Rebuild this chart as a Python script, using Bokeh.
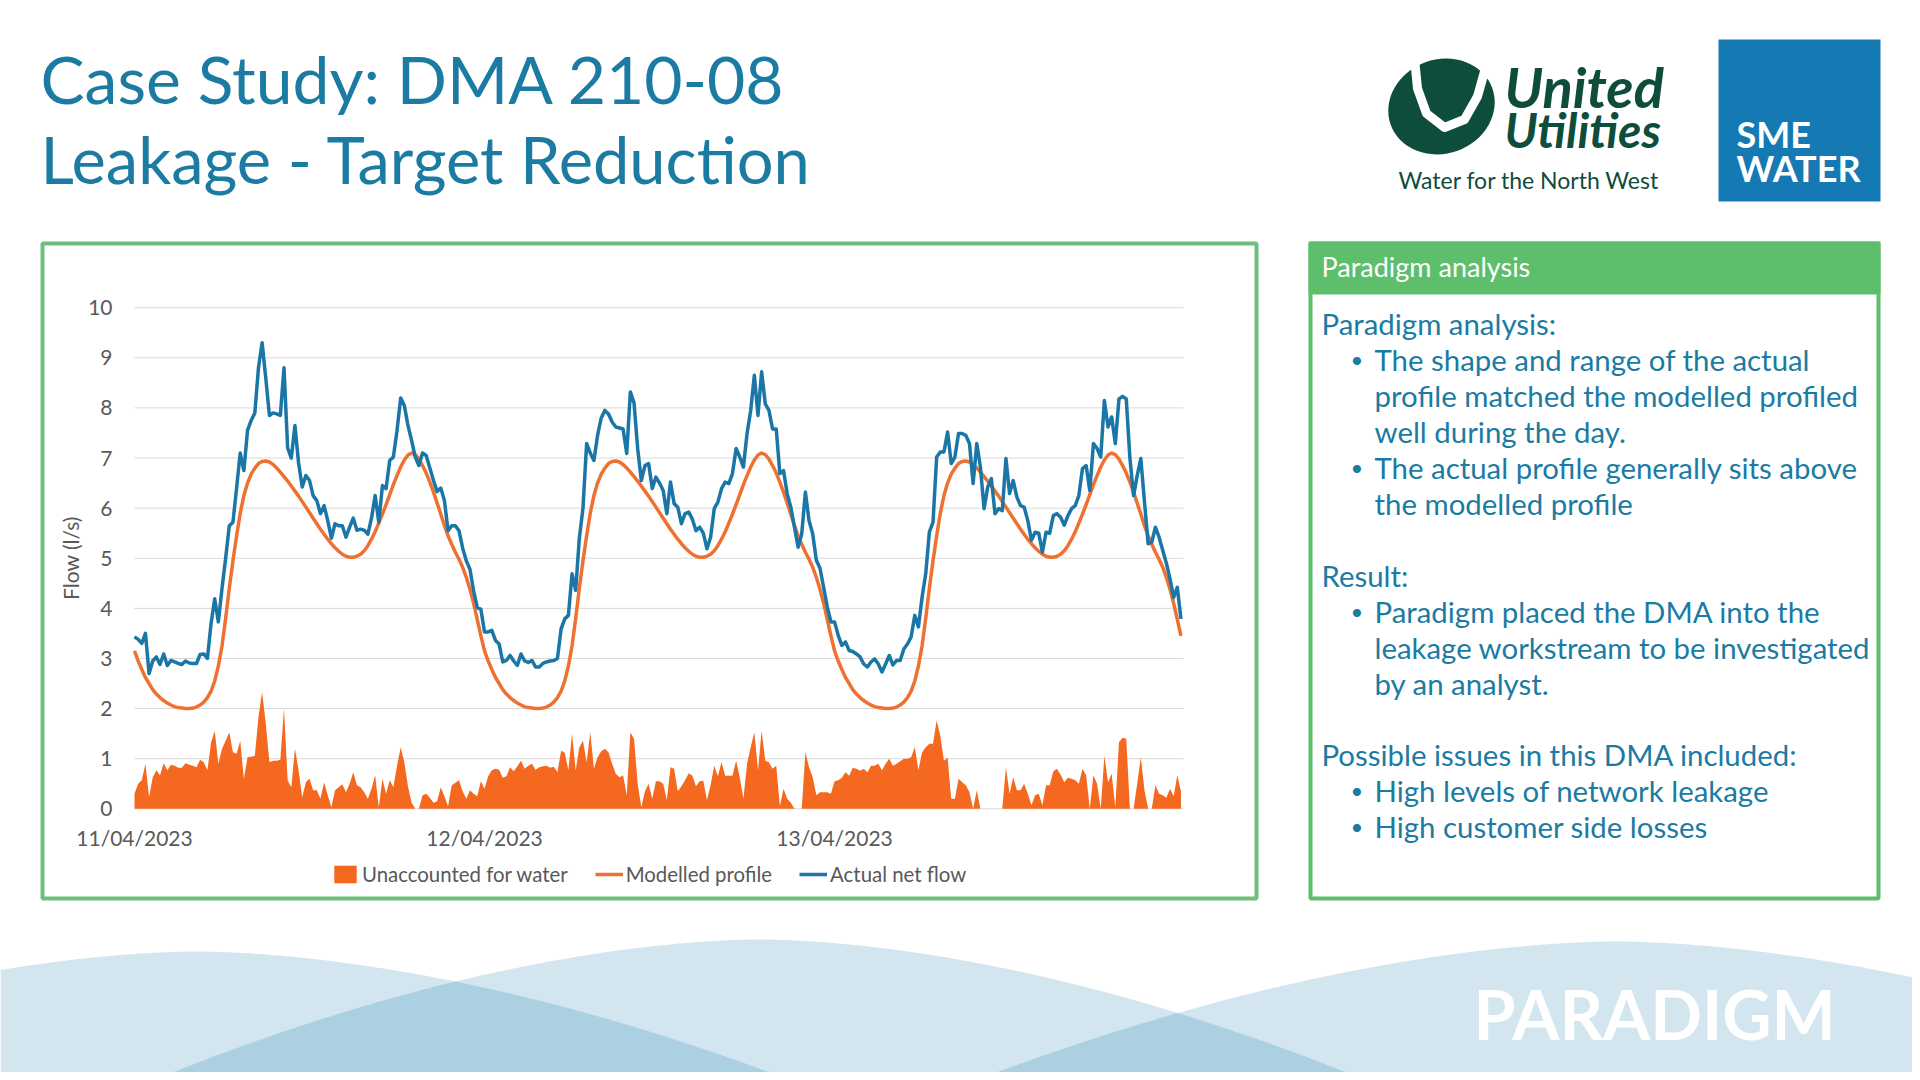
import numpy as np
import pandas as pd
from bokeh.plotting import figure
from bokeh.models import (Range1d, FixedTicker, DatetimeTickFormatter, Legend,
                          LegendItem, ColumnDataSource, LinearAxis, DatetimeAxis)
from bokeh.core.properties import value
from bokeh.embed import file_html
from bokeh.resources import INLINE

# ------------------------------------------------------------------ data
start_time = "2023-04-11 00:00"
interval = "15min"
date_labels = ["11/04/2023", "12/04/2023", "13/04/2023"]
y_ticks = [0, 1, 2, 3, 4, 5, 6, 7, 8, 9, 10]
y_axis_title = "Flow (l/s)"
series_names = ["Unaccounted for water", "Modelled profile", "Actual net flow"]

actual_net_flow = [
    3.43, 3.38, 3.30, 3.50, 2.70, 2.95, 3.03, 2.88, 3.09, 2.86,
    2.96, 2.93, 2.90, 2.88, 2.95, 2.91, 2.90, 2.90, 3.08, 3.09,
    3.00, 3.70, 4.19, 3.73, 4.40, 5.00, 5.65, 5.72, 6.40, 7.10,
    6.75, 7.55, 7.75, 7.90, 8.80, 9.30, 8.60, 7.85, 7.90, 7.88,
    7.85, 8.80, 7.20, 7.00, 7.65, 6.90, 6.42, 6.65, 6.55, 6.25,
    6.15, 5.89, 6.05, 5.75, 5.40, 5.69, 5.65, 5.65, 5.42, 5.62,
    5.80, 5.56, 5.58, 5.56, 5.48, 5.80, 6.25, 5.72, 6.45, 6.39,
    6.95, 7.02, 7.55, 8.20, 8.05, 7.65, 7.35, 7.02, 6.85, 7.10,
    7.05, 6.80, 6.55, 6.33, 6.40, 6.15, 5.55, 5.65, 5.65, 5.55,
    5.20, 4.95, 4.78, 4.35, 4.02, 3.98,
    3.53, 3.53, 3.56, 3.36, 3.29, 2.93, 2.96, 3.06, 2.95, 2.86,
    3.09, 2.95, 2.92, 2.96, 2.83, 2.83, 2.90, 2.93, 2.95, 2.96,
    3.00, 3.59, 3.79, 3.86, 4.69, 4.36, 5.40, 6.00, 7.29, 7.10,
    6.95, 7.45, 7.80, 7.95, 7.88, 7.72, 7.62, 7.60, 7.58, 7.09,
    8.32, 8.10, 7.19, 6.55, 6.85, 6.89, 6.39, 6.62, 6.50, 6.35,
    5.89, 6.52, 6.09, 6.02, 5.69, 5.89, 5.92, 5.78, 5.55, 5.62,
    5.50, 5.19, 5.42, 5.99, 6.12, 6.39, 6.52, 6.49, 6.69, 7.19,
    7.02, 6.82, 7.49, 7.95, 8.65, 7.85, 8.72, 8.08, 7.95, 7.58,
    7.58, 6.69, 6.75, 6.29, 6.02, 5.62, 5.22, 5.49, 6.32, 5.75,
    5.49, 4.96, 4.80, 4.42, 4.03, 3.73,
    3.73, 3.46, 3.26, 3.33, 3.16, 3.14, 3.09, 3.03, 2.89, 2.83,
    2.93, 2.99, 2.89, 2.73, 2.89, 3.06, 2.87, 2.96, 2.96, 3.19,
    3.29, 3.43, 3.86, 3.63, 4.22, 4.69, 5.52, 5.72, 7.02, 7.12,
    7.12, 7.52, 6.89, 7.02, 7.49, 7.49, 7.45, 7.29, 6.49, 7.29,
    6.82, 5.99, 6.42, 6.59, 5.89, 5.99, 5.95, 6.99, 6.29, 6.55,
    6.22, 6.05, 6.02, 5.75, 5.36, 5.52, 5.50, 5.12, 5.52, 5.50,
    5.85, 5.89, 5.82, 5.66, 5.85, 5.99, 6.05, 6.25, 6.79, 6.85,
    6.35, 7.29, 7.19, 7.02, 8.15, 7.62, 7.82, 7.29, 8.18, 8.23,
    8.18, 7.00, 6.25, 6.65, 6.99, 6.12, 5.29, 5.32, 5.62, 5.42,
    5.16, 4.90, 4.59, 4.22, 4.42, 3.79,
]

modelled_profile = [
    3.15, 2.95, 2.78, 2.62, 2.50, 2.38, 2.29, 2.22, 2.16, 2.11,
    2.07, 2.04, 2.02, 2.01, 2.00, 2.00, 2.01, 2.03, 2.07, 2.13,
    2.22, 2.35, 2.55, 2.85, 3.25, 3.80, 4.40, 4.95, 5.45, 5.90,
    6.25, 6.50, 6.68, 6.80, 6.89, 6.93, 6.94, 6.92, 6.87, 6.80,
    6.72, 6.63, 6.54, 6.44, 6.34, 6.24, 6.13, 6.02, 5.91, 5.80,
    5.69, 5.58, 5.48, 5.38, 5.29, 5.21, 5.14, 5.08, 5.04, 5.02,
    5.02, 5.04, 5.08, 5.15, 5.25, 5.38, 5.53, 5.70, 5.88, 6.07,
    6.27, 6.47, 6.65, 6.82, 6.96, 7.06, 7.10, 7.07, 6.98, 6.85,
    6.70, 6.52, 6.32, 6.10, 5.88, 5.65, 5.45, 5.28, 5.12, 4.98,
    4.82, 4.62, 4.38, 4.10, 3.78, 3.45,
    3.15, 2.95, 2.78, 2.62, 2.50, 2.38, 2.29, 2.22, 2.16, 2.11,
    2.07, 2.04, 2.02, 2.01, 2.00, 2.00, 2.01, 2.03, 2.07, 2.13,
    2.22, 2.35, 2.55, 2.85, 3.25, 3.80, 4.40, 4.95, 5.45, 5.90,
    6.25, 6.50, 6.68, 6.80, 6.89, 6.93, 6.94, 6.92, 6.87, 6.80,
    6.72, 6.63, 6.54, 6.44, 6.34, 6.24, 6.13, 6.02, 5.91, 5.80,
    5.69, 5.58, 5.48, 5.38, 5.29, 5.21, 5.14, 5.08, 5.04, 5.02,
    5.02, 5.04, 5.08, 5.15, 5.25, 5.38, 5.53, 5.70, 5.88, 6.07,
    6.27, 6.47, 6.65, 6.82, 6.96, 7.06, 7.10, 7.07, 6.98, 6.85,
    6.70, 6.52, 6.32, 6.10, 5.88, 5.65, 5.45, 5.28, 5.12, 4.98,
    4.82, 4.62, 4.38, 4.10, 3.78, 3.45,
    3.15, 2.95, 2.78, 2.62, 2.50, 2.38, 2.29, 2.22, 2.16, 2.11,
    2.07, 2.04, 2.02, 2.01, 2.00, 2.00, 2.01, 2.03, 2.07, 2.13,
    2.22, 2.35, 2.55, 2.85, 3.25, 3.80, 4.40, 4.95, 5.45, 5.90,
    6.25, 6.50, 6.68, 6.80, 6.89, 6.93, 6.94, 6.92, 6.87, 6.80,
    6.72, 6.63, 6.54, 6.44, 6.34, 6.24, 6.13, 6.02, 5.91, 5.80,
    5.69, 5.58, 5.48, 5.38, 5.29, 5.21, 5.14, 5.08, 5.04, 5.02,
    5.02, 5.04, 5.08, 5.15, 5.25, 5.38, 5.53, 5.70, 5.88, 6.07,
    6.27, 6.47, 6.65, 6.82, 6.96, 7.06, 7.10, 7.07, 6.98, 6.85,
    6.70, 6.52, 6.32, 6.10, 5.88, 5.65, 5.45, 5.28, 5.12, 4.98,
    4.82, 4.62, 4.38, 4.10, 3.78, 3.45,
]

unaccounted_for_water = [
    0.30, 0.50, 0.57, 0.90, 0.23, 0.63, 0.77, 0.67, 0.91, 0.77,
    0.88, 0.86, 0.82, 0.82, 0.91, 0.88, 0.86, 0.83, 0.98, 0.93,
    0.77, 1.33, 1.56, 0.90, 1.20, 1.36, 1.53, 1.13, 1.10, 1.36,
    0.60, 1.03, 1.04, 1.06, 1.83, 2.33, 1.70, 0.93, 0.96, 0.96,
    0.98, 2.00, 0.57, 0.43, 1.20, 0.77, 0.23, 0.53, 0.60, 0.37,
    0.37, 0.20, 0.53, 0.27, 0.03, 0.37, 0.43, 0.49, 0.33, 0.50,
    0.73, 0.47, 0.43, 0.33, 0.20, 0.40, 0.67, 0.03, 0.60, 0.30,
    0.57, 0.43, 0.86, 1.23, 0.93, 0.45, 0.12, 0.00, 0.00, 0.27,
    0.30, 0.22, 0.12, 0.15, 0.43, 0.25, 0.05, 0.47, 0.52, 0.57,
    0.35, 0.20, 0.37, 0.30, 0.25, 0.55, 0.40, 0.65, 0.77, 0.80,
    0.78, 0.62, 0.65, 0.83, 0.75, 0.85, 0.96, 0.80, 0.86, 0.90,
    0.78, 0.83, 0.85, 0.86, 0.82, 0.84, 0.73, 1.16, 1.12, 0.77,
    1.50, 0.77, 1.23, 1.36, 0.93, 1.53, 0.80, 1.03, 1.15, 1.20,
    1.13, 0.90, 0.70, 0.63, 0.67, 0.27, 1.53, 1.40, 0.50, 0.03,
    0.35, 0.50, 0.20, 0.55, 0.55, 0.50, 0.17, 0.83, 0.80, 0.35,
    0.45, 0.57, 0.71, 0.66, 0.45, 0.55, 0.56, 0.17, 0.47, 0.86,
    0.65, 0.93, 0.66, 0.66, 0.66, 0.96, 0.63, 0.20, 0.90, 1.23,
    1.53, 0.77, 1.56, 0.96, 0.93, 0.80, 0.86, 0.05, 0.40, 0.20,
    0.12, 0.00, 0.00, 0.00, 1.13, 0.83, 0.63, 0.27, 0.33, 0.33,
    0.33, 0.30, 0.55, 0.57, 0.62, 0.73, 0.66, 0.82, 0.80, 0.76,
    0.80, 0.73, 0.86, 0.86, 0.90, 0.77, 0.90, 1.00, 0.86, 0.90,
    0.95, 1.00, 1.00, 1.03, 1.23, 0.77, 1.13, 1.23, 1.30, 1.30,
    1.76, 1.46, 0.96, 1.02, 0.20, 0.20, 0.60, 0.53, 0.47, 0.33,
    0.00, 0.37, 0.00, 0.00, 0.00, 0.00, 0.00, 0.00, 0.00, 0.83,
    0.30, 0.63, 0.37, 0.37, 0.50, 0.30, 0.07, 0.27, 0.30, 0.07,
    0.47, 0.47, 0.75, 0.80, 0.68, 0.53, 0.62, 0.60, 0.57, 0.50,
    0.80, 0.67, 0.00, 0.67, 0.50, 0.00, 1.06, 0.53, 0.70, 0.03,
    1.33, 1.42, 1.40, 0.00, 0.00, 0.50, 1.03, 0.37, 0.00, 0.00,
    0.47, 0.30, 0.27, 0.22, 0.40, 0.25, 0.67, 0.35,
]

title_lines = ["Case Study: DMA 210-08", "Leakage - Target Reduction"]
panel_heading = "Paradigm analysis"
# (level, text): 0 = heading line, 1 = bullet, 2 = bullet continuation, None = blank
panel_lines = [
    (0, "Paradigm analysis:"),
    (1, "The shape and range of the actual"),
    (2, "profile matched the modelled profiled"),
    (2, "well during the day."),
    (1, "The actual profile generally sits above"),
    (2, "the modelled profile"),
    (None, ""),
    (0, "Result:"),
    (1, "Paradigm placed the DMA into the"),
    (2, "leakage workstream to be investigated"),
    (2, "by an analyst."),
    (None, ""),
    (0, "Possible issues in this DMA included:"),
    (1, "High levels of network leakage"),
    (1, "High customer side losses"),
]
logo_words = ["United", "Utilities", "Water for the North West"]
sme_words = ["SME", "WATER"]
brand_word = "PARADIGM"

# ------------------------------------------------------------------ style
FONT = "Lato"
TEAL = "#1b7ba3"
GREEN_BORDER = "#6cc07b"
GREEN_HEAD = "#5dbe6c"
ORANGE_FILL = "#f4691f"
ORANGE_LINE = "#ef7131"
BLUE_LINE = "#1a76a6"
GRID = "#d9d9d9"
AXIS_TEXT = "#595959"
UU_GREEN = "#0e4c3b"
SME_BLUE = "#1579b3"
WAVE_LIGHT = "#d3e6ef"
WAVE_DARK = "#abd0e2"

W, H = 1912, 1072          # page canvas, slide pixel coordinates
PLOT_L, PLOT_R = 134.0, 1183.0   # plot area (pixels)
Y0_PX, Y10_PX = 808.3, 307.2

p = figure(width=W, height=H, x_range=Range1d(0, W), y_range=Range1d(H, 0),
           x_axis_type=None, y_axis_type=None, toolbar_location=None,
           output_backend="svg", min_border=0, outline_line_color=None)
p.background_fill_color = "white"
p.border_fill_color = "white"


def txt(x, y, s, size, color, style="normal", align="left"):
    p.text(x=[x], y=[y], text=[s], text_font=value(FONT), text_font_size=size,
           text_color=color, text_font_style=style, text_align=align,
           text_baseline="middle")


# ------------------------------------------------------------------ footer waves
xs = np.linspace(0, W, 700)


def arc(px, py, c):
    return np.minimum(py + c * np.abs(xs - px) ** 1.75, H + 20)


a1, a2, a3 = arc(196, 951, 0.0018), arc(759, 939, 0.0019), arc(1616, 941, 0.0017)
for a in (a1, a2, a3):
    p.patch(x=list(xs) + [W, 0], y=list(a) + [H + 20, H + 20], fill_color=WAVE_LIGHT, line_color=None)
for a in (np.maximum(a1, a2), np.maximum(a2, a3)):
    p.patch(x=list(xs) + [W, 0], y=list(a) + [H + 20, H + 20], fill_color=WAVE_DARK, line_color=None)
txt(1473, 1013, brand_word, "68px", "white", style="bold")

# ------------------------------------------------------------------ header
txt(40, 78, title_lines[0], "66px", TEAL)
txt(40, 158, title_lines[1], "65px", TEAL)

p.ellipse(x=[1441], y=[106], width=[108], height=[94], angle=[0.35],
          fill_color=UU_GREEN, line_color=None)
p.line(x=[1414, 1417, 1426, 1444, 1464, 1477, 1486],
       y=[58, 88, 113, 127, 119, 96, 64], line_color="white", line_width=9,
       line_cap="round", line_join="round")
txt(1504, 86, logo_words[0], "56px", UU_GREEN, style="bold italic")
txt(1504, 129, logo_words[1], "48px", UU_GREEN, style="bold italic")
txt(1398, 179, logo_words[2], "23px", UU_GREEN)

p.quad(left=[1718], right=[1880], top=[39], bottom=[201], fill_color=SME_BLUE, line_color=None)
txt(1736, 133, sme_words[0], "36px", "white", style="bold")
txt(1736, 167, sme_words[1], "36px", "white", style="bold")

# ------------------------------------------------------------------ boxes
p.quad(left=[42], right=[1256], top=[243], bottom=[898], fill_color=None,
       line_color=GREEN_BORDER, line_width=4)
p.quad(left=[1308], right=[1880], top=[241], bottom=[294], fill_color=GREEN_HEAD, line_color=None)
p.quad(left=[1310], right=[1878], top=[243], bottom=[898], fill_color=None,
       line_color=GREEN_HEAD, line_width=4)

txt(1321, 266, panel_heading, "27px", "white")
for n, (lvl, s) in enumerate(panel_lines):
    yc = 323.3 + 35.92 * n
    if lvl is None:
        continue
    if lvl == 0:
        txt(1321, yc, s, "29.4px", TEAL)
    else:
        if lvl == 1:
            txt(1350, yc, "\u2022", "22px", TEAL)
        txt(1374, yc, s, "29.4px", TEAL)

# ------------------------------------------------------------------ chart (own scales)
times = pd.date_range(start_time, periods=len(actual_net_flow), freq=interval)
step_ms = pd.Timedelta(interval).value / 1e6
t0_ms = times[0].value / 1e6
t_end_ms = t0_ms + 287.7 * step_ms
ms_per_px = (t_end_ms - t0_ms) / (PLOT_R - PLOT_L)
px_per_unit = (Y0_PX - Y10_PX) / (y_ticks[-1] - y_ticks[0])
p.extra_x_ranges = {"cx": Range1d(t0_ms - PLOT_L * ms_per_px, t0_ms + (W - PLOT_L) * ms_per_px)}
p.extra_y_ranges = {"cy": Range1d(-(H - Y0_PX) / px_per_unit, Y0_PX / px_per_unit)}
day_ticks = [pd.to_datetime(d, format="%d/%m/%Y").value / 1e6 for d in date_labels]

grid_src = ColumnDataSource(dict(y=y_ticks, x0=[t0_ms] * len(y_ticks), x1=[t_end_ms] * len(y_ticks)))
p.segment(x0="x0", x1="x1", y0="y", y1="y", source=grid_src, line_color=GRID, line_width=1,
          x_range_name="cx", y_range_name="cy")

src = ColumnDataSource(dict(t=times, actual=actual_net_flow, modelled=modelled_profile,
                            ufw=unaccounted_for_water))
r_ufw = p.varea(x="t", y1=0, y2="ufw", source=src, fill_color=ORANGE_FILL,
                x_range_name="cx", y_range_name="cy")
r_mod = p.line(x="t", y="modelled", source=src, line_color=ORANGE_LINE, line_width=3.5,
               line_join="round", x_range_name="cx", y_range_name="cy")
r_act = p.line(x="t", y="actual", source=src, line_color=BLUE_LINE, line_width=3.5,
               line_join="round", x_range_name="cx", y_range_name="cy")

yax = LinearAxis(x_range_name="cx", y_range_name="cy", fixed_location=t0_ms,
                 ticker=FixedTicker(ticks=y_ticks), bounds=(y_ticks[0], y_ticks[-1]))
yax.axis_line_color = None
yax.major_tick_line_color = None
yax.minor_tick_line_color = None
yax.major_label_standoff = 16
yax.major_label_text_font = FONT
yax.major_label_text_font_size = "21px"
yax.major_label_text_color = AXIS_TEXT
yax.axis_label = y_axis_title
yax.axis_label_text_font = FONT
yax.axis_label_text_font_size = "21px"
yax.axis_label_text_font_style = "normal"
yax.axis_label_text_color = AXIS_TEXT
yax.axis_label_standoff = 2
p.add_layout(yax, "left")

fmt = "%d/%m/%Y"
xax = DatetimeAxis(x_range_name="cx", y_range_name="cy", fixed_location=0,
                   ticker=FixedTicker(ticks=day_ticks),
                   formatter=DatetimeTickFormatter(microseconds=fmt, milliseconds=fmt, seconds=fmt,
                                                   minsec=fmt, minutes=fmt, hourmin=fmt, hours=fmt,
                                                   days=fmt, months=fmt, years=fmt))
xax.axis_line_color = None
xax.major_tick_line_color = None
xax.minor_tick_line_color = None
xax.major_label_standoff = 10
xax.major_label_text_font = FONT
xax.major_label_text_font_size = "21px"
xax.major_label_text_color = AXIS_TEXT
p.add_layout(xax, "below")

legend = Legend(items=[LegendItem(label=series_names[0], renderers=[r_ufw]),
                       LegendItem(label=series_names[1], renderers=[r_mod]),
                       LegendItem(label=series_names[2], renderers=[r_act])],
                orientation="horizontal", location=(331, H - 886),
                label_text_font=FONT, label_text_font_size="20.4px",
                label_text_color=AXIS_TEXT, glyph_width=28, glyph_height=22,
                label_standoff=3, spacing=27, padding=0, margin=0,
                border_line_color=None, background_fill_alpha=0)
p.add_layout(legend)

open("out.html", "w").write(file_html(p, INLINE))
